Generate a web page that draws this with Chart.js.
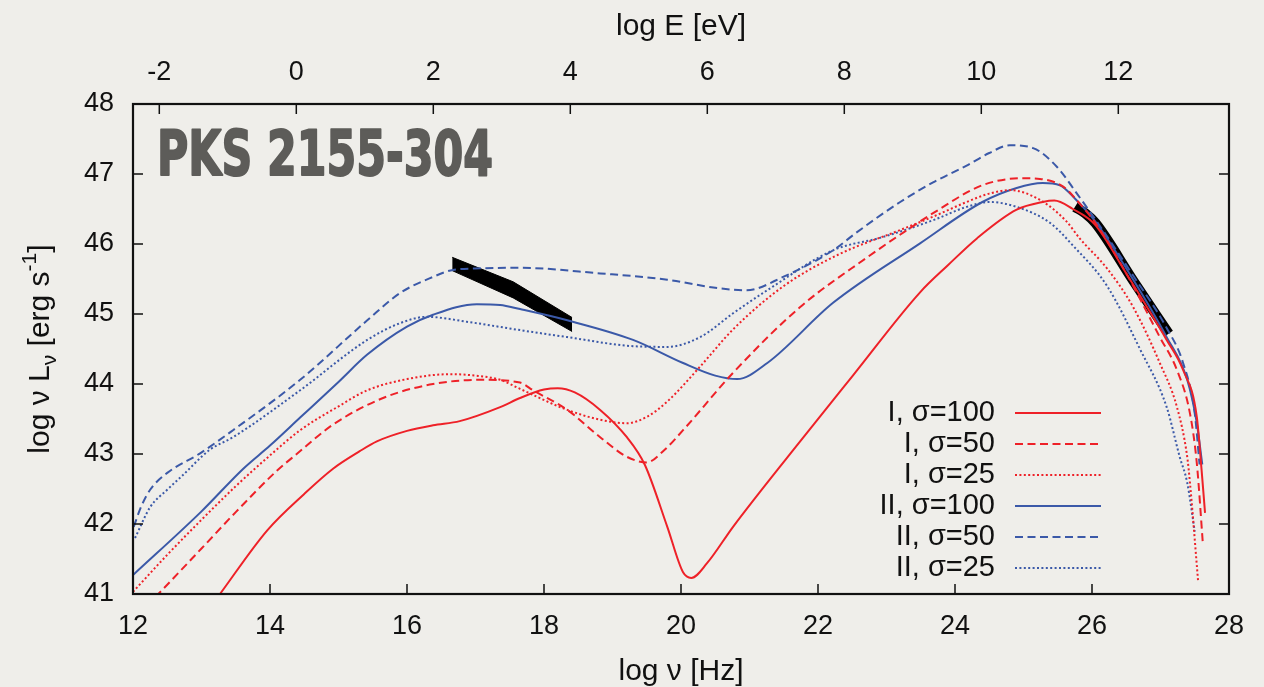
<!DOCTYPE html>
<html lang="en">
<head>
<meta charset="UTF-8">
<title>PKS 2155-304 SED</title>
<script src="https://cdn.jsdelivr.net/npm/chart.js@4"></script>
<style>
  html, body { margin: 0; padding: 0; background: #efeeea; }
  #wrap { width: 1264px; height: 687px; position: relative; }
</style>
</head>
<body>
<div id="wrap"><canvas id="sed"></canvas></div>
<script>
// tick values
const xTicks = [12, 14, 16, 18, 20, 22, 24, 26, 28];
const eTicks = [-2, 0, 2, 4, 6, 8, 10, 12];
const yTicks = [41, 42, 43, 44, 45, 46, 47, 48];
const eOffset = 14.384; // log(h) in eV s

// model I, sigma = 100 / 50 / 25
const nuI100 = [13.0, 13.27, 13.96, 14.5, 14.92, 15.31, 15.56, 16.0, 16.38, 16.77, 17.36, 17.65, 18.0, 18.2, 18.45, 18.82, 19.21, 19.47, 19.8, 20.03, 20.15, 20.38, 20.76, 21.64, 22.5, 23.49, 23.9, 24.32, 24.9, 25.28, 25.45, 25.72, 26.04, 26.5, 27.09, 27.33, 27.53, 27.6, 27.65];
const lumI100 = [40.64, 41.0, 41.91, 42.43, 42.79, 43.04, 43.18, 43.33, 43.41, 43.47, 43.67, 43.8, 43.92, 43.94, 43.88, 43.63, 43.24, 42.85, 41.96, 41.31, 41.23, 41.44, 41.96, 43.06, 44.11, 45.31, 45.7, 46.08, 46.49, 46.6, 46.62, 46.5, 46.28, 45.58, 44.63, 44.2, 43.53, 42.77, 42.16];

const nuI50 = [12.2, 12.37, 13.0, 13.5, 14.1, 14.39, 14.92, 15.65, 16.38, 17.1, 17.65, 17.84, 18.34, 18.82, 19.21, 19.5, 19.75, 20.03, 20.76, 21.74, 22.72, 23.3, 23.68, 24.4, 24.99, 25.24, 25.58, 25.8, 26.05, 26.5, 26.99, 27.24, 27.43, 27.53, 27.62];
const lumI50 = [40.83, 41.0, 41.65, 42.17, 42.76, 43.0, 43.42, 43.8, 44.0, 44.06, 44.02, 43.91, 43.63, 43.24, 42.96, 42.88, 43.05, 43.34, 44.16, 45.1, 45.81, 46.2, 46.44, 46.84, 46.94, 46.93, 46.82, 46.6, 46.3, 45.58, 44.67, 44.2, 43.58, 42.87, 41.7];

const nuI25 = [12.0, 12.5, 13.0, 13.5, 14.0, 14.44, 15.0, 15.42, 16.0, 16.63, 17.0, 17.36, 17.65, 18.34, 18.82, 19.21, 19.5, 19.8, 20.28, 20.76, 21.5, 22.3, 23.2, 23.68, 24.17, 24.5, 24.8, 25.24, 25.63, 25.82, 26.22, 26.6, 26.99, 27.24, 27.39, 27.43, 27.55];
const lumI25 = [41.03, 41.56, 42.06, 42.54, 42.98, 43.34, 43.68, 43.91, 44.07, 44.14, 44.12, 44.06, 43.93, 43.63, 43.49, 43.44, 43.53, 43.75, 44.25, 44.78, 45.4, 45.85, 46.2, 46.39, 46.6, 46.72, 46.77, 46.63, 46.32, 46.08, 45.65, 45.1, 44.3, 43.67, 42.96, 42.59, 41.17];

// model II, sigma = 100 / 50 / 25
const nuII100 = [12.0, 13.0, 13.61, 14.0, 14.44, 15.0, 15.42, 16.0, 16.38, 17.02, 17.36, 17.65, 18.34, 19.3, 20.03, 20.5, 20.82, 21.26, 22.22, 23.49, 24.4, 24.9, 25.28, 25.53, 25.75, 26.05, 26.5, 27.09, 27.39, 27.53, 27.61];
const lumII100 = [41.27, 42.18, 42.79, 43.12, 43.52, 44.03, 44.42, 44.82, 44.99, 45.14, 45.13, 45.07, 44.91, 44.63, 44.3, 44.12, 44.07, 44.3, 45.16, 46.01, 46.6, 46.8, 46.87, 46.84, 46.65, 46.32, 45.65, 44.67, 44.06, 43.44, 42.85];

const nuII50 = [12.01, 12.12, 12.25, 12.5, 12.98, 13.46, 14.44, 15.42, 15.9, 16.38, 16.67, 17.0, 17.65, 18.82, 19.8, 20.53, 20.96, 21.49, 22.22, 22.57, 23.2, 23.68, 24.17, 24.5, 24.8, 25.14, 25.49, 25.78, 26.12, 26.6, 27.09, 27.33, 27.5, 27.57];
const lumII50 = [41.96, 42.25, 42.49, 42.73, 43.01, 43.34, 44.06, 44.91, 45.3, 45.53, 45.63, 45.65, 45.66, 45.58, 45.49, 45.37, 45.34, 45.53, 45.91, 46.17, 46.6, 46.88, 47.12, 47.3, 47.41, 47.37, 47.1, 46.72, 46.25, 45.55, 44.8, 44.3, 43.58, 42.85];

const nuII25 = [12.03, 12.25, 12.5, 12.73, 13.12, 13.46, 14.44, 15.42, 15.9, 16.29, 16.87, 17.65, 18.34, 19.3, 19.8, 20.28, 20.76, 21.26, 22.22, 22.95, 23.68, 24.17, 24.51, 24.9, 25.39, 25.72, 26.22, 26.7, 27.09, 27.28, 27.39, 27.5];
const lumII25 = [41.8, 42.24, 42.49, 42.7, 43.06, 43.24, 43.91, 44.63, 44.87, 44.96, 44.89, 44.77, 44.67, 44.54, 44.53, 44.67, 45.01, 45.34, 45.91, 46.1, 46.34, 46.53, 46.6, 46.53, 46.3, 45.98, 45.4, 44.5, 43.67, 42.96, 42.59, 41.89];

// observed spectra (black bands)
const nuOpt = [16.66, 17.55, 18.41];
const lumOptHi = [45.81, 45.46, 44.95];
const lumOptLo = [45.62, 45.23, 44.75];
const nuTeV = [25.75, 25.9, 26.05, 26.6, 27.12];
const lumTeV = [46.53, 46.44, 46.3, 45.48, 44.72];

const RED = '#ee2128';
const BLUE = '#3b59a8';
const DASH = [8, 4.5];
const DOT = [2, 2.4];

function pts(xs, ys) { return xs.map((x, i) => ({x: x, y: ys[i]})); }

function model(label, xs, ys, color, dash) {
  return {
    label: label, data: pts(xs, ys), borderColor: color, borderDash: dash,
    borderWidth: 2, pointRadius: 0, fill: false, cubicInterpolationMode: 'monotone', order: 1
  };
}

const datasets = [
  model('I, σ=100', nuI100, lumI100, RED, []),
  model('I, σ=50', nuI50, lumI50, RED, DASH),
  model('I, σ=25', nuI25, lumI25, RED, DOT),
  model('II, σ=100', nuII100, lumII100, BLUE, []),
  model('II, σ=50', nuII50, lumII50, BLUE, DASH),
  model('II, σ=25', nuII25, lumII25, BLUE, DOT),
  { data: pts(nuOpt, lumOptHi), borderColor: '#000', borderWidth: 1, pointRadius: 0, tension: 0, fill: false, order: 5 },
  { data: pts(nuOpt, lumOptLo), borderColor: '#000', borderWidth: 1, pointRadius: 0, tension: 0, fill: '-1', backgroundColor: '#000', order: 5 },
  { data: pts(nuTeV, lumTeV), borderColor: '#000', borderWidth: 10, borderCapStyle: 'butt', pointRadius: 0, cubicInterpolationMode: 'monotone', fill: false, order: 5 }
];

// inward tick marks on all four sides plus the frame
const frameTicks = {
  id: 'frameTicks',
  afterDatasetsDraw(chart) {
    const {ctx, chartArea: a, scales} = chart;
    const len = 10;
    ctx.save();
    ctx.strokeStyle = '#111';
    ctx.lineWidth = 1.5;
    ctx.beginPath();
    xTicks.forEach(v => { const p = scales.x.getPixelForValue(v); ctx.moveTo(p, a.bottom); ctx.lineTo(p, a.bottom - len); });
    eTicks.forEach(v => { const p = scales.x2.getPixelForValue(v); ctx.moveTo(p, a.top); ctx.lineTo(p, a.top + len); });
    yTicks.forEach(v => {
      const p = scales.y.getPixelForValue(v);
      ctx.moveTo(a.left, p); ctx.lineTo(a.left + len, p);
      ctx.moveTo(a.right, p); ctx.lineTo(a.right - len, p);
    });
    ctx.stroke();
    ctx.lineWidth = 2.2;
    ctx.strokeRect(a.left, a.top, a.right - a.left, a.bottom - a.top);
    ctx.restore();
  }
};

// legend: text right-aligned, line sample to the right
const sideLegend = {
  id: 'sideLegend',
  afterDraw(chart) {
    const {ctx, chartArea: a} = chart;
    const items = chart.data.datasets.filter(d => d.label);
    ctx.save();
    ctx.font = '29px "Liberation Sans", Arial, sans-serif';
    ctx.textAlign = 'right';
    ctx.textBaseline = 'middle';
    ctx.fillStyle = '#111';
    items.forEach((d, i) => {
      const y = 413 + i * 31;
      ctx.fillText(d.label, a.right - 234, y);
      ctx.strokeStyle = d.borderColor;
      ctx.lineWidth = 2;
      ctx.setLineDash(d.borderDash);
      ctx.beginPath();
      ctx.moveTo(a.right - 214, y);
      ctx.lineTo(a.right - 128, y);
      ctx.stroke();
    });
    ctx.restore();
  }
};

// source name inside the plot
const sourceName = {
  id: 'sourceName',
  afterDraw(chart) {
    const {ctx} = chart;
    const text = 'PKS 2155-304';
    ctx.save();
    ctx.font = 'bold 62px "DejaVu Sans", sans-serif';
    const w = ctx.measureText(text).width;
    ctx.translate(157, 175);
    ctx.scale(336 / w, 1);
    ctx.fillStyle = '#5d5c59';
    ctx.strokeStyle = '#5d5c59';
    ctx.lineWidth = 2;
    ctx.lineJoin = 'round';
    ctx.textBaseline = 'alphabetic';
    ctx.fillText(text, 0, 0);
    ctx.strokeText(text, 0, 0);
    ctx.restore();
  }
};

// y axis title with subscript and superscript
const yTitle = {
  id: 'yTitle',
  afterDraw(chart) {
    const {ctx, chartArea: a} = chart;
    const parts = [
      {t: 'log ν L', size: 30, dy: 0},
      {t: 'ν', size: 21, dy: 7},
      {t: ' [erg s', size: 30, dy: 0},
      {t: '-1', size: 21, dy: -13},
      {t: ']', size: 30, dy: 0}
    ];
    ctx.save();
    ctx.fillStyle = '#111';
    ctx.textBaseline = 'alphabetic';
    let total = 0;
    parts.forEach(p => {
      ctx.font = p.size + 'px "Liberation Sans", Arial, sans-serif';
      p.w = ctx.measureText(p.t).width;
      total += p.w;
    });
    ctx.translate(49, (a.top + a.bottom) / 2 + total / 2);
    ctx.rotate(-Math.PI / 2);
    let x = 0;
    parts.forEach(p => {
      ctx.font = p.size + 'px "Liberation Sans", Arial, sans-serif';
      ctx.fillText(p.t, x, p.dy);
      x += p.w;
    });
    ctx.restore();
  }
};

Chart.defaults.font.family = '"Liberation Sans", Arial, sans-serif';
Chart.defaults.color = '#111';

const tickFont = {size: 27};

new Chart(document.getElementById('sed'), {
  type: 'line',
  data: {datasets: datasets},
  options: {
    animation: false,
    responsive: true,
    maintainAspectRatio: false,
    events: [],
    layout: {padding: {left: 0, right: 35, top: 0, bottom: 0}},
    plugins: {legend: {display: false}, tooltip: {enabled: false}},
    scales: {
      x: {
        type: 'linear', position: 'bottom', min: 12, max: 28,
        grid: {display: false, drawTicks: false},
        border: {display: false},
        ticks: {font: tickFont, padding: 16, maxRotation: 0},
        afterBuildTicks: s => { s.ticks = xTicks.map(v => ({value: v})); },
        afterFit: s => { s.height = 93; },
        title: {display: true, text: 'log ν [Hz]', font: {size: 30, lineHeight: 1}, padding: {top: 0, bottom: 0}}
      },
      x2: {
        type: 'linear', position: 'top', min: 12 - eOffset, max: 28 - eOffset,
        grid: {display: false, drawTicks: false},
        border: {display: false},
        ticks: {font: tickFont, padding: 15, maxRotation: 0},
        afterBuildTicks: s => { s.ticks = eTicks.map(v => ({value: v})); },
        afterFit: s => { s.height = 104; },
        title: {display: true, text: 'log E [eV]', font: {size: 30, lineHeight: 1}, padding: {top: 12, bottom: 0}}
      },
      y: {
        type: 'linear', position: 'left', min: 41, max: 48,
        grid: {display: false, drawTicks: false},
        border: {display: false},
        ticks: {font: tickFont, padding: 19},
        afterBuildTicks: s => { s.ticks = yTicks.map(v => ({value: v})); },
        afterFit: s => { s.width = 133; }
      }
    }
  },
  plugins: [frameTicks, sideLegend, sourceName, yTitle]
});
</script>
</body>
</html>
